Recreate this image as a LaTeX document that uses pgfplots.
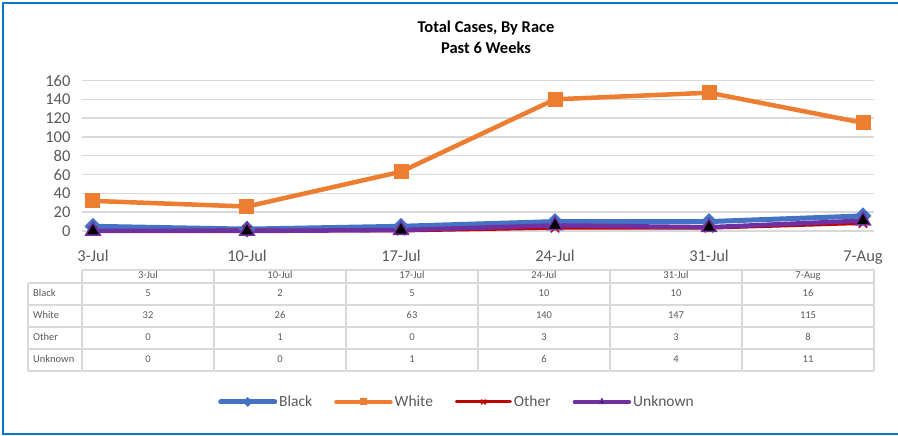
\documentclass[border=0pt]{standalone}
\usepackage{pgfplots}
\pgfplotsset{compat=1.18}
\usepackage{pgfplotstable}
\usepackage{fontspec}
\setmainfont{Carlito}
\definecolor{cblack}{HTML}{4472C4}
\definecolor{cwhite}{HTML}{ED7D31}
\definecolor{cother}{HTML}{C00000}
\definecolor{cunk}{HTML}{7030A0}
\definecolor{txt}{HTML}{595959}
\definecolor{gridc}{HTML}{D9D9D9}
\definecolor{framec}{HTML}{0B77C9}

\pgfplotstableread{
x Black White Other Unknown
0 5 32 0 0
1 2 26 1 0
2 5 63 0 1
3 10 140 3 6
4 10 147 3 4
5 16 115 8 11
}\data

\begin{document}
\begin{tikzpicture}[x=1pt,y=1pt]
\useasboundingbox (0,0) rectangle (898,436);
\draw[framec, line width=2pt] (899,433) -- (3,433) -- (3,1.5) -- (899,1.5);
\node[font=\fontsize{16.5}{18}\selectfont\bfseries] at (486,407.5) {Total Cases, By Race};
\node[font=\fontsize{16.5}{18}\selectfont\bfseries] at (486,388.5) {Past 6 Weeks};

% data table
\begin{scope}[gridc, line width=1.8pt]
\draw (82,166) -- (874,166);
\foreach \yy in {153,131,109,87,65} {\draw (28,\yy) -- (874,\yy);}
\draw (28,153) -- (28,65);
\foreach \xx in {82,214,346,478,610,742,874} {\draw (\xx,166) -- (\xx,65);}
\end{scope}
\tikzset{tbl/.style={font=\fontsize{10.5}{12}\selectfont, text=txt, text height=7.5pt, text depth=2.5pt, inner ysep=0pt}}
\foreach \lab [count=\i from 0] in {3-Jul,10-Jul,17-Jul,24-Jul,31-Jul,7-Aug} {
  \node[tbl] at (148+132*\i,159.5) {\lab};
}
\foreach \s/\yy in {Black/142,White/120,Other/98,Unknown/76} {
  \node[tbl, anchor=west, inner xsep=0pt] at (33,\yy) {\s};
  \foreach \r in {0,...,5} {
    \pgfplotstablegetelem{\r}{\s}\of\data
    \node[tbl] at (148+132*\r,\yy) {\pgfplotsretval};
  }
}

\begin{axis}[at={(82pt,205pt)}, anchor=south west, scale only axis,
  width=792pt, height=150.5pt,
  xmin=-0.0714, xmax=5.0714, ymin=0, ymax=160,
  ytick={0,20,...,160}, xtick={0,...,5},
  xticklabels={3-Jul,10-Jul,17-Jul,24-Jul,31-Jul,7-Aug},
  ymajorgrids, grid style={gridc, line width=1.5pt},
  axis line style={draw=none}, major tick style={draw=none},
  clip=false,
  tick label style={font=\fontsize{16.5}{18}\selectfont, text=txt},
  xticklabel style={yshift=-16pt},
  yticklabel style={xshift=-8pt},
  /pgf/number format/assume math mode=true,
  legend columns=4,
  legend style={draw=none, fill=none, at={(axis description cs:0.4735,-1.136)}, anchor=center,
    font=\fontsize{15.5}{17}\selectfont, text=txt,
    /tikz/every even column/.append style={column sep=20pt}},
  legend image code/.code={\draw[mark repeat=2,mark phase=2,#1,line cap=round] plot coordinates {(0pt,0pt)(27pt,0pt)(54pt,0pt)};},
  legend image post style={mark size=3pt},
]
\addplot[cblack, line width=5pt, mark=square*, mark size=5.5pt,
  mark options={rotate=45, line width=1pt, fill=cblack}] table[x=x, y=Black] {\data};
\addlegendentry{Black}
\addplot[cwhite, line width=4.5pt, mark=square*, mark size=7pt,
  mark options={line width=1pt, fill=cwhite}] table[x=x, y=White] {\data};
\addlegendentry{White}
\addplot[cother, line width=3pt, mark=x, mark size=6pt,
  mark options={line width=1.5pt}] table[x=x, y=Other] {\data};
\addlegendentry{Other}
\addplot[cunk, line width=4.5pt, mark=triangle*, mark size=8.5pt,
  mark options={line width=1.5pt, draw=cunk, fill=black}] table[x=x, y=Unknown] {\data};
\addlegendentry{Unknown}
\end{axis}
\end{tikzpicture}
\end{document}
